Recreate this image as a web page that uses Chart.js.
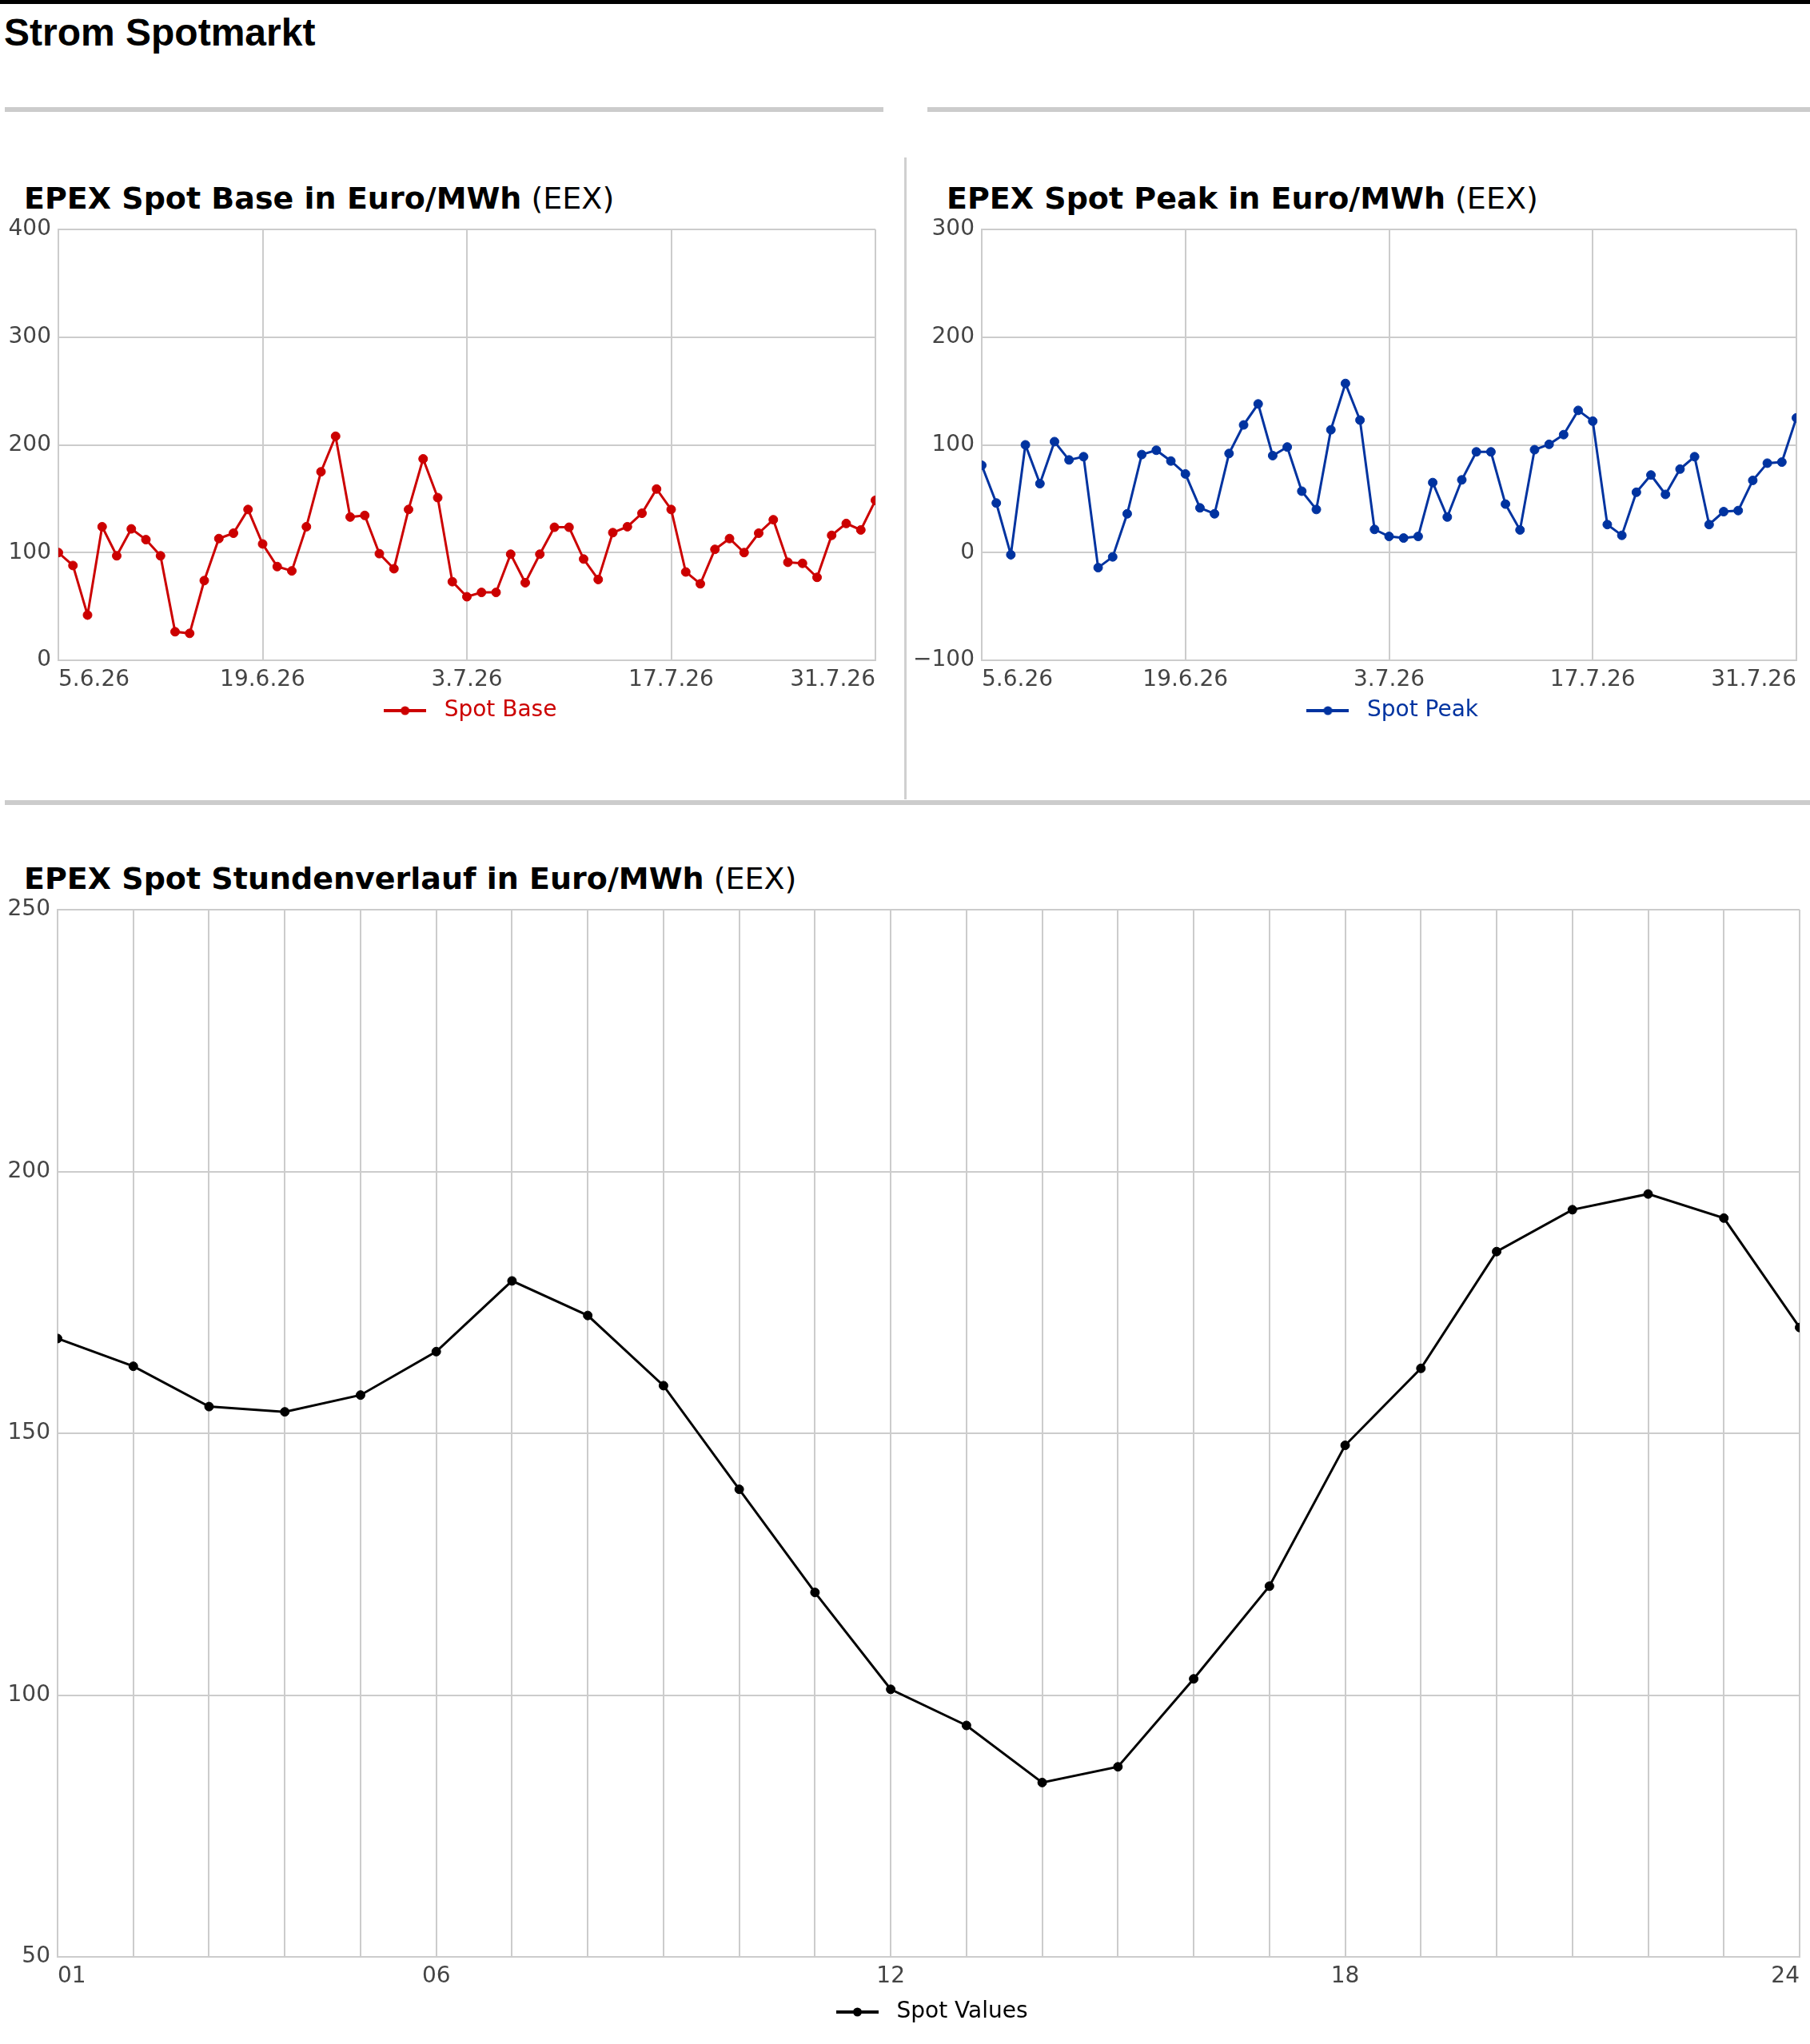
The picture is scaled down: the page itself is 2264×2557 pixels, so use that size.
<!DOCTYPE html>
<html lang="de">
<head>
<meta charset="utf-8">
<title>Strom Spotmarkt</title>
<script src="https://cdn.jsdelivr.net/npm/chart.js@4.4.1/dist/chart.umd.min.js"></script>
<style>
  html, body { margin: 0; padding: 0; background: #fff; }
  body { position: relative; width: 2264px; height: 2557px; overflow: hidden; font-family: "DejaVu Sans", sans-serif; }
  .topbar { position: absolute; left: 0; top: 0; width: 2264px; height: 5px; background: #000; }
  h1 { position: absolute; left: 5px; top: 17px; margin: 0; font: bold 48px/48px "Liberation Sans", Arial, sans-serif; color: #000; white-space: nowrap; }
  .rule { position: absolute; height: 6px; background: #cccccc; }
  .vsep { position: absolute; left: 1131px; top: 197px; width: 3px; height: 803px; background: #d0d0d0; }
  .title { position: absolute; margin: 0; font: 38px/38px "DejaVu Sans", sans-serif; color: #000; white-space: nowrap; }
  canvas { position: absolute; }
</style>
</head>
<body>
<div class="topbar"></div>
<h1>Strom Spotmarkt</h1>
<div class="rule" style="left:6px; top:134px; width:1099px;"></div>
<div class="rule" style="left:1160px; top:134px; width:1104px;"></div>
<div class="vsep"></div>
<div class="rule" style="left:6px; top:1001px; width:2258px;"></div>

<div class="title" style="left:30px; top:229px;"><b>EPEX Spot Base in Euro/MWh</b> (EEX)</div>
<div class="title" style="left:1184px; top:229px;"><b>EPEX Spot Peak in Euro/MWh</b> (EEX)</div>
<div class="title" style="left:30px; top:1080px;"><b>EPEX Spot Stundenverlauf in Euro/MWh</b> (EEX)</div>

<canvas id="baseChart" width="1105" height="656" style="left:0; top:257px; width:1105px; height:656px;"></canvas>
<canvas id="peakChart" width="1117" height="656" style="left:1140px; top:257px; width:1117px; height:656px;"></canvas>
<canvas id="hourChart" width="2261" height="1433" style="left:0; top:1108px; width:2261px; height:1433px;"></canvas>

<script>
// Days 5.6.26 - 31.7.26
const days = [];
for (let i = 0; i < 57; i++) {
    const d = new Date(Date.UTC(2026, 5, 5 + i));
    days.push(d.getUTCDate() + "." + (d.getUTCMonth() + 1) + ".26");
}
const dayTicks = ["5.6.26", "19.6.26", "3.7.26", "17.7.26", "31.7.26"];

// Spot Base (Euro/MWh)
const baseValues = [100, 88, 42, 124, 97, 122, 112, 97, 26.5, 25,
    74, 113, 118, 140, 108, 87, 83, 124, 175, 208,
    133, 134.5, 99, 85, 140, 187, 151, 73, 59, 63,
    63, 98.5, 72, 98.5, 123.5, 123.5, 94, 75, 118.5, 124,
    136.5, 159, 140, 82, 71, 103, 113, 100, 118, 130.5,
    91, 90, 77, 116, 127, 121, 148.5];

// Spot Peak (Euro/MWh)
const peakValues = [81, 46, -2, 100, 64, 103, 86, 89, -14, -4,
    36, 91, 95, 85, 73, 41.5, 36, 92, 118.5, 138,
    90, 98, 57, 40, 114, 157, 123, 21.5, 15, 13.5,
    15, 65, 33, 67.5, 93.5, 93.5, 45, 21, 95.5, 100.5,
    109.5, 132, 122, 26, 16, 56, 72, 54, 77.5, 89,
    26, 38, 39, 67, 83, 84, 125];

// Stundenverlauf
const hours = ["01", "02", "03", "04", "05", "06", "07", "08", "09", "10", "11", "12",
    "13", "14", "15", "16", "17", "18", "19", "20", "21", "22", "23", "24"];
const hourTicks = ["01", "06", "12", "18", "24"];
const hourValues = [168.1, 162.8, 155.1, 154.1, 157.3, 165.6, 179.1, 172.5, 159.1, 139.3, 119.6, 101.1,
    94.2, 83.3, 86.3, 103.1, 120.8, 147.7, 162.4, 184.7, 192.7, 195.7, 191.1, 170.2];

const gridColor = "#cccccc";
const tickColor = "#444444";

Chart.defaults.font.family = "'DejaVu Sans', sans-serif";
Chart.defaults.font.size = 28;
Chart.defaults.animation = false;

// legend marker: line with dot
function legendMarker(color) {
    const c = document.createElement("canvas");
    c.width = 53;
    c.height = 12;
    const g = c.getContext("2d");
    g.strokeStyle = color;
    g.lineWidth = 4;
    g.beginPath();
    g.moveTo(0, 6);
    g.lineTo(53, 6);
    g.stroke();
    g.fillStyle = color;
    g.beginPath();
    g.arc(26.5, 6, 5.5, 0, Math.PI * 2);
    g.fill();
    return c;
}

function lineChart(id, opts) {
    return new Chart(document.getElementById(id), {
        type: "line",
        data: {
            labels: opts.labels,
            datasets: [{
                label: opts.name,
                data: opts.values,
                borderColor: opts.color,
                backgroundColor: opts.color,
                pointBackgroundColor: opts.color,
                pointBorderColor: opts.color,
                borderWidth: 3,
                pointRadius: 5.5,
                pointBorderWidth: 1,
                tension: 0,
                clip: 0
            }]
        },
        options: {
            responsive: false,
            events: [],
            layout: { padding: { top: 30, right: 10, bottom: 0, left: 0 } },
            plugins: {
                tooltip: { enabled: false },
                legend: {
                    position: "bottom",
                    fullSize: false,
                    labels: {
                        usePointStyle: true,
                        pointStyle: legendMarker(opts.color),
                        pointStyleWidth: 70,
                        color: opts.color,
                        padding: opts.legendPadding,
                        font: { size: 28 }
                    }
                }
            },
            scales: {
                x: {
                    grid: { color: opts.xGrid, lineWidth: 2, drawTicks: false },
                    border: { color: gridColor, width: 2 },
                    ticks: {
                        autoSkip: false,
                        maxRotation: 0,
                        align: "inner",
                        padding: 8,
                        color: tickColor,
                        callback: function (v) {
                            const l = this.getLabelForValue(v);
                            return opts.ticks.includes(l) ? l : "";
                        }
                    },
                    afterFit: s => { s.height = 39; }
                },
                y: {
                    min: opts.min,
                    max: opts.max,
                    grid: { color: gridColor, lineWidth: 2, drawTicks: false },
                    border: { color: gridColor, width: 2 },
                    ticks: {
                        stepSize: opts.step,
                        padding: 9,
                        color: tickColor,
                        callback: v => String(v).replace("-", "\u2212")
                    },
                    afterFit: s => { s.width = opts.axisWidth; }
                }
            }
        }
    });
}

const dayGrid = c => (c.index % 14 === 0 ? gridColor : "rgba(0,0,0,0)");

lineChart("baseChart", {
    labels: days, values: baseValues, name: "Spot Base", color: "#cc0000",
    ticks: dayTicks, xGrid: dayGrid, min: 0, max: 400, step: 100, axisWidth: 73, legendPadding: 10
});

lineChart("peakChart", {
    labels: days, values: peakValues, name: "Spot Peak", color: "#0033a0",
    ticks: dayTicks, xGrid: dayGrid, min: -100, max: 300, step: 100, axisWidth: 88, legendPadding: 10
});

lineChart("hourChart", {
    labels: hours, values: hourValues, name: "Spot Values", color: "#000000",
    ticks: hourTicks, xGrid: gridColor, min: 50, max: 250, step: 50, axisWidth: 72, legendPadding: 16
});
</script>
</body>
</html>
